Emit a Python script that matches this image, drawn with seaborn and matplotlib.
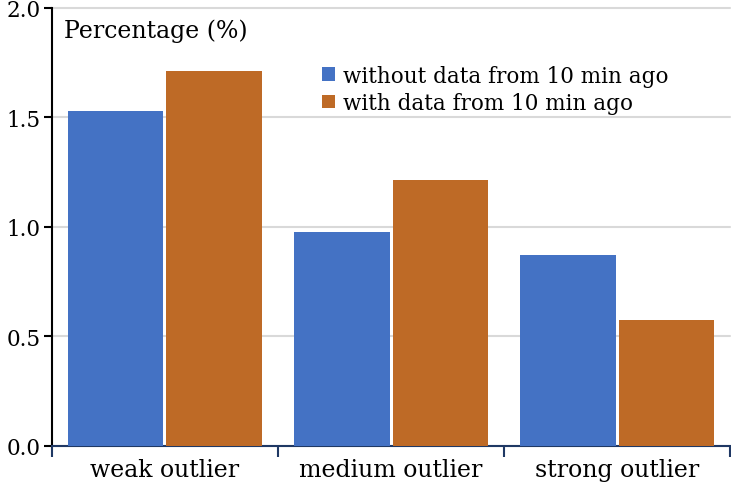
import pandas as pd
import seaborn as sns
import matplotlib.pyplot as plt

# Valores
categories = ['weak outlier', 'medium outlier', 'strong outlier']
series_names = ['without data from 10 min ago', 'with data from 10 min ago']
without_vals = [1.53, 0.977, 0.873]
with_vals = [1.71, 1.215, 0.573]
y_ticks = [0.0, 0.5, 1.0, 1.5, 2.0]

COLORS = ['#4472C4', '#BE6A26']
NAVY = '#1F3864'


def main() -> None:
    sns.set_style('white')
    plt.rcParams['font.family'] = ['DejaVu Serif']
    plt.rcParams['text.color'] = 'black'
    plt.rcParams['xtick.color'] = 'black'
    plt.rcParams['ytick.color'] = 'black'

    df = pd.DataFrame({
        'category': categories * 2,
        'series': [series_names[0]] * 3 + [series_names[1]] * 3,
        'value': without_vals + with_vals,
    })

    fig, ax = plt.subplots(figsize=(7.31, 4.89), dpi=100)
    fig.subplots_adjust(left=0.071, right=0.999, top=0.982, bottom=0.086)

    sns.barplot(
        data=df, x='category', y='value', hue='series',
        order=categories, hue_order=series_names,
        palette=COLORS, width=0.87, gap=0.03, saturation=1,
        errorbar=None, ax=ax, zorder=3, linewidth=0,
    )

    ax.set_xlim(-0.5, 2.5)
    ax.set_ylim(0, 2.0)
    ax.set_yticks(y_ticks)
    ax.set_yticklabels([f'{v:.1f}' for v in y_ticks])
    ax.yaxis.grid(True, color='#D9D9D9', linewidth=1.5, zorder=0)
    for gl in ax.get_ygridlines():
        gl.set_clip_on(False)
    ax.set_axisbelow(True)

    for s in ['top', 'right']:
        ax.spines[s].set_visible(False)
    ax.spines['left'].set_color('black')
    ax.spines['left'].set_linewidth(1.5)
    ax.spines['bottom'].set_color(NAVY)
    ax.spines['bottom'].set_linewidth(1.5)

    ax.tick_params(axis='y', left=True, length=6, width=1.5, color='black',
                   labelsize=15.5, pad=2, labelcolor='black')
    ax.tick_params(axis='x', which='major', length=0, labelsize=17, pad=9,
                   labelcolor='black')
    ax.set_xticks([-0.5, 0.5, 1.5, 2.5], minor=True)
    ax.tick_params(axis='x', which='minor', bottom=True, length=8,
                   width=1.5, color=NAVY)

    ax.set_xlabel('')
    ax.set_ylabel('')
    ax.text(0.018, 0.975, 'Percentage (%)', transform=ax.transAxes,
            fontsize=17, va='top', ha='left', color='black')

    leg = ax.legend(loc='upper left', bbox_to_anchor=(0.385, 0.89),
                    frameon=False, fontsize=15.5, handlelength=0.6,
                    handleheight=0.6, handletextpad=0.4, labelspacing=0.25,
                    borderaxespad=0)
    for t in leg.get_texts():
        t.set_color('black')

    fig.savefig('out.png', dpi=100)
    plt.close(fig)


if __name__ == '__main__':
    main()
